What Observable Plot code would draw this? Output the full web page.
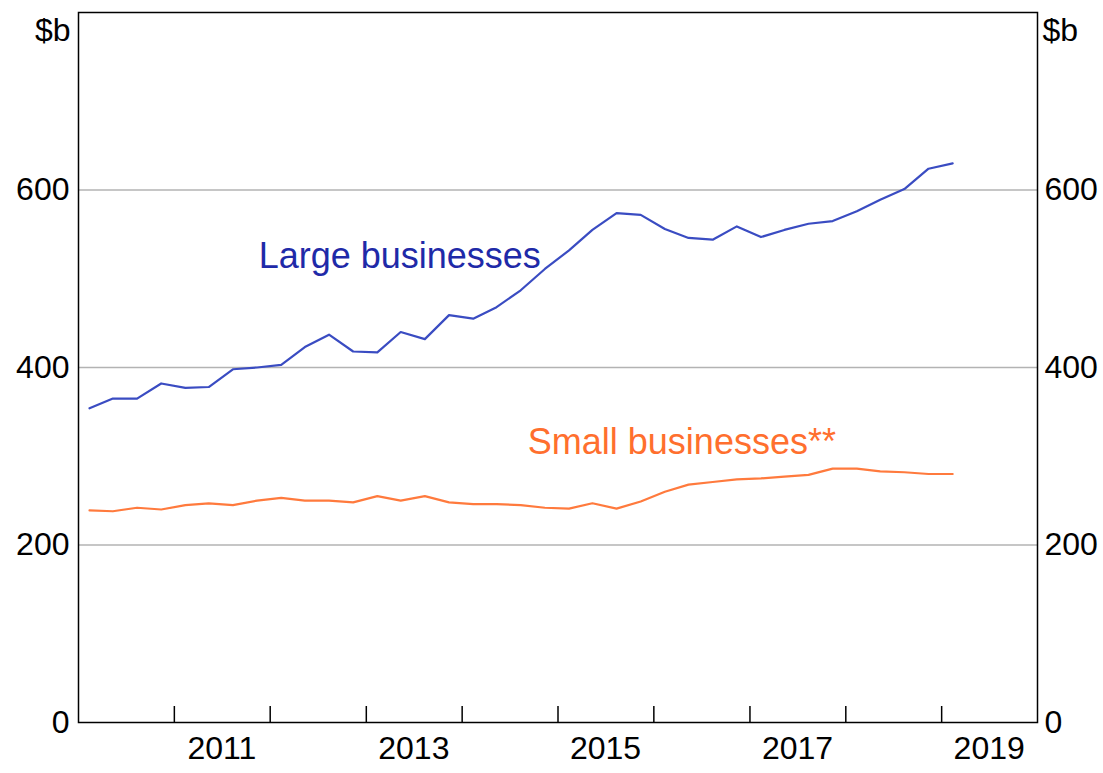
<!DOCTYPE html>
<html>
<head>
<meta charset="utf-8">
<script src="https://cdn.jsdelivr.net/npm/d3@7"></script>
<script src="https://cdn.jsdelivr.net/npm/@observablehq/plot@0.6"></script>
<style>
  html, body { margin: 0; padding: 0; background: #fff; }
  #chart svg { display: block; }
</style>
</head>
<body>
<div id="chart"></div>
<script>
// Quarterly observations, Q1 2010 to Q1 2019 ($b)
const startYear = 2010;
const largeBusinesses = [
  354, 365, 365, 382, 377, 378, 398, 400, 403, 423,
  437, 418, 417, 440, 432, 459, 455, 468, 487, 511,
  532, 555, 574, 572, 556, 546, 544, 559, 547, 555,
  562, 565, 576, 589, 601, 624, 630
];
const smallBusinesses = [
  239, 238, 242, 240, 245, 247, 245, 250, 253, 250,
  250, 248, 255, 250, 255, 248, 246, 246, 245, 242,
  241, 247, 241, 249, 260, 268, 271, 274, 275, 277,
  279, 286, 286, 283, 282, 280, 280
];
const yTicks = [0, 200, 400, 600];
const yearTicks = [2011, 2012, 2013, 2014, 2015, 2016, 2017, 2018, 2019];
const yearLabels = [2011, 2013, 2015, 2017, 2019];
const unitLabel = "$b";
const seriesNames = ["Large businesses", "Small businesses**"];

const quarterDate = i => new Date(Date.UTC(startYear, 1 + 3 * i, 12));
const large = largeBusinesses.map((v, i) => ({date: quarterDate(i), value: v}));
const small = smallBusinesses.map((v, i) => ({date: quarterDate(i), value: v}));
const tickDates = yearTicks.map(y => new Date(Date.UTC(y, 0, 1)));
const labelDates = yearLabels.map(y => new Date(Date.UTC(y, 6, 1)));

const FONT = "'Liberation Sans', Arial, Helvetica, sans-serif";
const width = 1103, height = 773;
const marginTop = 12, marginBottom = 51, marginLeft = 78, marginRight = 66;
const innerH = height - marginTop - marginBottom;
const TICK_FS = 32;

const chart = Plot.plot({
  width, height, marginTop, marginBottom, marginLeft, marginRight,
  style: {fontFamily: FONT, fontSize: TICK_FS + "px", color: "#000", background: "#fff"},
  x: {type: "utc", domain: [new Date(Date.UTC(2010, 0, 1)), new Date(Date.UTC(2020, 0, 1))], label: null},
  y: {domain: [0, 800], label: null},
  marks: [
    Plot.gridY(yTicks.filter(d => d > 0), {stroke: "#b3b3b3", strokeOpacity: 1, strokeWidth: 1.5}),
    Plot.tickX(tickDates, {x: d => d, stroke: "#000", strokeWidth: 1.5, insetTop: innerH - 16}),
    Plot.axisX(labelDates, {tickSize: 0, tickPadding: 14, label: null, tickFormat: d => String(d.getUTCFullYear()), fontSize: TICK_FS}),
    Plot.axisY(yTicks, {anchor: "left", label: null, tickSize: 0, tickPadding: 9, fontSize: TICK_FS}),
    Plot.axisY(yTicks, {anchor: "right", label: null, tickSize: 0, tickPadding: 7, fontSize: TICK_FS}),
    Plot.text([unitLabel], {frameAnchor: "top-left", text: d => d, textAnchor: "end", lineAnchor: "middle", dx: -8, dy: 18, fontSize: TICK_FS, fill: "#000"}),
    Plot.text([unitLabel], {frameAnchor: "top-right", text: d => d, textAnchor: "start", lineAnchor: "middle", dx: 5, dy: 18, fontSize: TICK_FS, fill: "#000"}),
    Plot.lineY(large, {x: "date", y: "value", stroke: "#3a4cc2", strokeWidth: 2.2}),
    Plot.lineY(small, {x: "date", y: "value", stroke: "#ff7a3d", strokeWidth: 2.2}),
    Plot.text([seriesNames[0]], {x: () => new Date(Date.UTC(2011, 10, 18)), y: () => 525, text: d => d, textAnchor: "start", lineAnchor: "middle", fontSize: 36, fill: "#1f2aa8"}),
    Plot.text([seriesNames[1]], {x: () => new Date(Date.UTC(2014, 8, 8)), y: () => 316, text: d => d, textAnchor: "start", lineAnchor: "middle", fontSize: 36, fill: "#ff6f2e"}),
    Plot.frame({stroke: "#000", strokeWidth: 1.5})
  ]
});
document.getElementById("chart").append(chart);
</script>
</body>
</html>
